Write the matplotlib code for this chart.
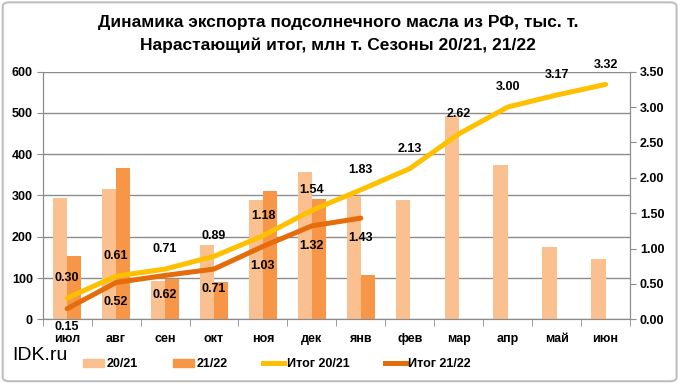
import numpy as np
import matplotlib
matplotlib.use("Agg")
import matplotlib.pyplot as plt
from matplotlib.patches import FancyBboxPatch, Patch
from matplotlib.lines import Line2D

plt.rcParams['font.family'] = ['Liberation Sans', 'DejaVu Sans']

months = ['июл', 'авг', 'сен', 'окт', 'ноя', 'дек', 'янв', 'фев', 'мар', 'апр', 'май', 'июн']
exp_2021 = [295, 316, 92, 180, 290, 358, 298, 290, 493, 374, 175, 146]
exp_2122 = [153, 367, 97, 91, 312, 291, 107]
cum_2021 = [0.30, 0.61, 0.71, 0.89, 1.18, 1.54, 1.83, 2.13, 2.62, 3.00, 3.17, 3.32]
cum_2122 = [0.15, 0.52, 0.62, 0.71, 1.03, 1.32, 1.43]

c_light = '#FAC090'
c_dark = '#F79646'
c_yel = '#FFC000'
c_or = '#E46C0A'

fig = plt.figure(figsize=(6.82, 3.89), dpi=100)
ax = fig.add_axes([0.0626, 0.1792, 0.8612, 0.6365])
ax2 = ax.twinx()

x = np.arange(len(months))
w = 0.29
ax.bar(x[:len(exp_2021)] - w / 2, exp_2021, w, color=c_light, zorder=2)
ax.bar(x[:len(exp_2122)] + w / 2, exp_2122, w, color=c_dark, zorder=2)

ax.set_xlim(-0.5, 11.5)
ax.set_ylim(0, 600)
ax.set_yticks(range(0, 601, 100))
ax.yaxis.grid(True, color='#8C8C8C', lw=1, zorder=0)
ax.set_axisbelow(True)
ax.set_xticks(x)
ax.set_xticklabels(months)
ax.set_xticks(np.arange(-0.5, 12, 1), minor=True)
ax.tick_params(axis='x', which='major', length=0, pad=10)
ax.tick_params(axis='x', which='minor', length=5, color='#8C8C8C')
ax.tick_params(axis='y', length=4, color='#8C8C8C', pad=3)
for lab in ax.get_xticklabels() + ax.get_yticklabels():
    lab.set_fontsize(9)
    lab.set_fontweight('bold')

ax2.plot(x[:len(cum_2021)], cum_2021, color=c_yel, lw=3.6, solid_capstyle='round', zorder=3)
ax2.plot(x[:len(cum_2122)], cum_2122, color=c_or, lw=3.6, solid_capstyle='round', zorder=3)
ax2.set_ylim(0, 3.5)
ax2.set_yticks(np.arange(0, 3.51, 0.5))
ax2.set_yticklabels([f'{v:.2f}' for v in np.arange(0, 3.51, 0.5)], fontsize=9, fontweight='bold')
ax2.tick_params(axis='y', length=4, color='#8C8C8C', pad=3)

for i, v in enumerate(cum_2021):
    ax2.annotate(f'{v:.2f}', (i, v), xytext=(0, 10), textcoords='offset points',
                 ha='center', va='bottom', fontsize=9, fontweight='bold', zorder=4)
for i, v in enumerate(cum_2122):
    ax2.annotate(f'{v:.2f}', (i, v), xytext=(0, -9 if i == 0 else -10), textcoords='offset points',
                 ha='center', va='top', fontsize=9, fontweight='bold', zorder=4)

for a in (ax, ax2):
    for s in a.spines.values():
        s.set_color('#8C8C8C')
    a.spines['top'].set_visible(False)

fig.text(0.496, 0.943, 'Динамика экспорта подсолнечного масла из РФ, тыс. т.',
         ha='center', va='center', fontsize=12.5, fontweight='bold')
fig.text(0.496, 0.884, 'Нарастающий итог, млн т. Сезоны 20/21, 21/22',
         ha='center', va='center', fontsize=12.5, fontweight='bold')
fig.text(0.018, 0.085, 'IDK.ru', ha='left', va='center', fontsize=14)

handles = [Patch(color=c_light), Patch(color=c_dark),
           Line2D([], [], color=c_yel, lw=3.6), Line2D([], [], color=c_or, lw=3.6)]
labels = ['20/21', '21/22', 'Итог 20/21', 'Итог 21/22']
leg = fig.legend(handles, labels, loc='center left', bbox_to_anchor=(0.122, 0.064), ncol=4,
                 frameon=False, fontsize=9, handlelength=1.7, handleheight=0.6,
                 handletextpad=0.2, columnspacing=2.8, borderaxespad=0, borderpad=0)
for t in leg.get_texts():
    t.set_fontweight('bold')

border = FancyBboxPatch((0.004, 0.02), 0.988, 0.974, boxstyle='round,pad=0,rounding_size=0.01',
                        transform=fig.transFigure, fill=False, edgecolor='#BFBFBF', lw=1.5)
fig.patches.append(border)

fig.savefig('out.png', dpi=100)
